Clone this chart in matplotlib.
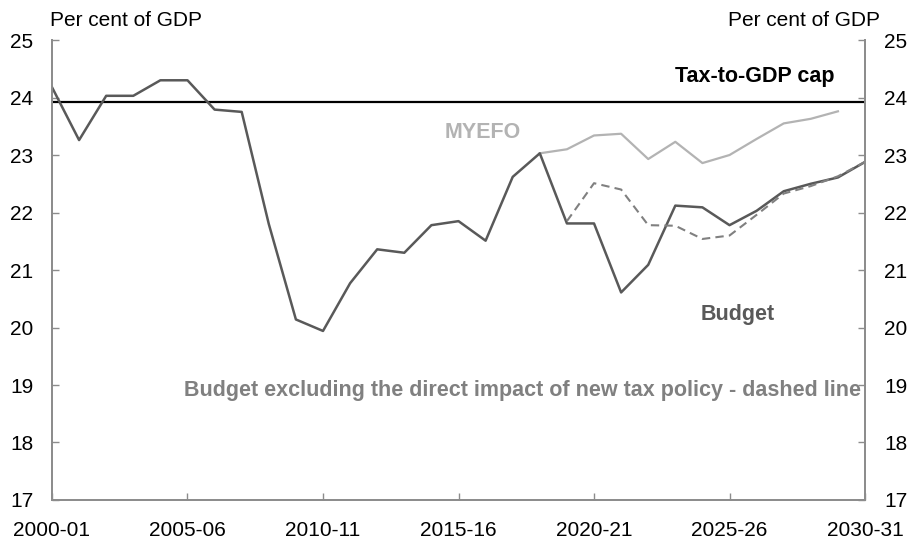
import matplotlib
matplotlib.use("Agg")
import matplotlib.pyplot as plt

plt.rcParams['font.family'] = ['Liberation Sans', 'DejaVu Sans']

# Financial years, 2000-01 to 2030-31
anos = [f"{a}-{str(a + 1)[-2:]}" for a in range(2000, 2031)]
rotulos_x = ["2000-01", "2005-06", "2010-11", "2015-16", "2020-21", "2025-26", "2030-31"]

# Budget (actuals + projections), per cent of GDP
budget = [24.18, 23.26, 24.03, 24.03, 24.30, 24.30, 23.79, 23.75, 21.80, 20.14,
          19.94, 20.77, 21.36, 21.30, 21.78, 21.85, 21.51, 22.62, 23.03, 21.81,
          21.81, 20.61, 21.09, 22.12, 22.09, 21.78, 22.03, 22.37, 22.50, 22.61,
          22.88]

# MYEFO, from 2018-19 to 2029-30
myefo_inicio = 18
myefo = [23.03, 23.10, 23.34, 23.37, 22.93, 23.23, 22.86, 23.00, 23.28, 23.55,
         23.63, 23.76]

# Budget excluding the direct impact of new tax policy, from 2019-20
sem_politica_inicio = 19
sem_politica = [21.85, 22.51, 22.40, 21.78, 21.77, 21.54, 21.60, 21.96, 22.33,
                22.46, 22.63, 22.88]

teto = 23.93

cinza_escuro = "#595959"
cinza_medio = "#808080"
cinza_claro = "#b3b3b3"
cinza_eixo = "#8c8c8c"

fig = plt.figure(figsize=(9.12, 5.41), dpi=100)
ax = fig.add_axes([0.057, 0.0758, 0.8915, 0.8502])

x = list(range(len(anos)))
ax.axhline(teto, color="black", lw=1.6, zorder=2)
ax.plot(x[myefo_inicio:myefo_inicio + len(myefo)], myefo, color=cinza_claro, lw=1.6, zorder=3)
ax.plot(x, budget, color=cinza_escuro, lw=1.8, zorder=4)
ax.plot(x[sem_politica_inicio:sem_politica_inicio + len(sem_politica)], sem_politica,
        color=cinza_medio, lw=1.5, ls=(0, (4, 2.5)), zorder=5)

ax.set_xlim(0, len(anos) - 1)
ax.set_ylim(17, 25)
ax.set_yticks(range(17, 26))
ax.set_xticks([anos.index(r) for r in rotulos_x])
ax.set_xticklabels(rotulos_x)

# eixo da direita, mesma escala
ax2 = ax.twinx()
ax2.set_ylim(17, 25)
ax2.set_yticks(range(17, 26))

for a in (ax, ax2):
    for s in a.spines.values():
        s.set_color(cinza_eixo)
        s.set_linewidth(1.3)
    a.spines["top"].set_visible(False)
ax.tick_params(axis="both", direction="in", length=5, width=1, color=cinza_eixo,
               labelsize=15, labelcolor="black")
ax.tick_params(axis="y", pad=13.5)
ax.tick_params(axis="x", pad=15)
ax2.tick_params(axis="y", direction="in", length=5, width=1, color=cinza_eixo,
                labelsize=15, labelcolor="black", pad=14)

fig.text(0.0548, 0.963, "Per cent of GDP", fontsize=15, ha="left", va="center")
fig.text(0.965, 0.963, "Per cent of GDP", fontsize=15, ha="right", va="center")

ax.text(25.94, 24.27, "Tax-to-GDP cap", fontsize=15.5, fontweight="bold", color="black",
        ha="center", va="baseline")
ax.text(15.89, 23.30, "MYEFO", fontsize=15.5, fontweight="bold", color=cinza_claro,
        ha="center", va="baseline")
ax.text(25.3, 20.13, "Budget", fontsize=15.5, fontweight="bold", color=cinza_escuro,
        ha="center", va="baseline")
ax.text(29.85, 18.81, "Budget excluding the direct impact of new tax policy - dashed line",
        fontsize=15.5, fontweight="bold", color=cinza_medio, ha="right", va="baseline")

fig.savefig("out.png", dpi=100)
